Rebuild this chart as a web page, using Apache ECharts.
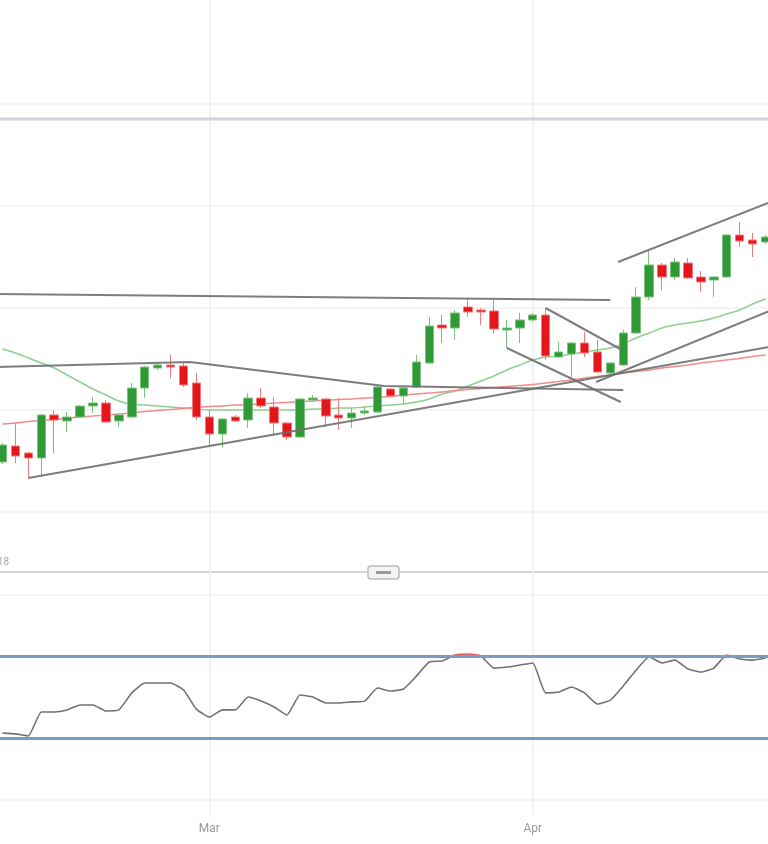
<!DOCTYPE html>
<html>
<head>
<meta charset="utf-8">
<script src="https://cdn.jsdelivr.net/npm/echarts@6/dist/echarts.min.js"></script>
<style>
html,body{margin:0;padding:0;background:#fff;overflow:hidden;width:768px;height:844px;}
#c{position:absolute;left:-4px;top:0;width:776px;height:844px;}
</style>
</head>
<body>
<div id="c"></div>
<script>
// ---- data ----
const dates = [
  '2018-02-11','2018-02-12','2018-02-13','2018-02-14','2018-02-15','2018-02-16','2018-02-18','2018-02-19',
  '2018-02-20','2018-02-21','2018-02-22','2018-02-23','2018-02-25','2018-02-26','2018-02-27','2018-02-28',
  '2018-03-01','2018-03-02','2018-03-04','2018-03-05','2018-03-06','2018-03-07','2018-03-08','2018-03-09',
  '2018-03-11','2018-03-12','2018-03-13','2018-03-14','2018-03-15','2018-03-16','2018-03-18','2018-03-19',
  '2018-03-20','2018-03-21','2018-03-22','2018-03-23','2018-03-25','2018-03-26','2018-03-27','2018-03-28',
  '2018-03-29','2018-04-02','2018-04-03','2018-04-04','2018-04-05','2018-04-06','2018-04-08','2018-04-09',
  '2018-04-10','2018-04-11','2018-04-12','2018-04-13','2018-04-15','2018-04-16','2018-04-17','2018-04-18',
  '2018-04-19','2018-04-20','2018-04-22','2018-04-23'
];
const monthLabels = {'02':'Feb','03':'Mar','04':'Apr'};

const opens = [
  1.3768,1.3800,1.3786,1.3776,1.3862,1.3850,1.3858,1.3880,1.3886,1.3850,
  1.3858,1.3916,1.3956,1.3962,1.3960,1.3926,1.3858,1.3824,1.3858,1.3852,
  1.3896,1.3878,1.3846,1.3818,1.3892,1.3894,1.3862,1.3856,1.3866,1.3868,
  1.3914,1.3900,1.3918,1.3966,1.4042,1.4036,1.4078,1.4072,1.4070,1.4032,
  1.4036,1.4052,1.4062,1.3978,1.3984,1.4006,1.3988,1.3946,1.3962,1.4026,
  1.4098,1.4162,1.4138,1.4166,1.4138,1.4132,1.4138,1.4222,1.4212,1.4208
];
const closes = [
  1.3802,1.3780,1.3776,1.3862,1.3852,1.3858,1.3880,1.3886,1.3848,1.3862,
  1.3916,1.3958,1.3962,1.3958,1.3922,1.3858,1.3824,1.3854,1.3850,1.3896,
  1.3880,1.3846,1.3818,1.3894,1.3896,1.3860,1.3856,1.3866,1.3870,1.3918,
  1.3900,1.3916,1.3968,1.4040,1.4036,1.4066,1.4068,1.4068,1.4034,1.4036,
  1.4052,1.4062,1.3980,1.3988,1.4006,1.3986,1.3948,1.3966,1.4026,1.4098,
  1.4162,1.4138,1.4168,1.4136,1.4128,1.4138,1.4222,1.4210,1.4204,1.4218
];
const lows = [
  1.3764,1.3766,1.3736,1.3738,1.3786,1.3828,1.3856,1.3866,1.3846,1.3838,
  1.3856,1.3896,1.3952,1.3936,1.3918,1.3852,1.3798,1.3798,1.3848,1.3836,
  1.3876,1.3822,1.3812,1.3816,1.3888,1.3838,1.3832,1.3836,1.3862,1.3866,
  1.3898,1.3884,1.3916,1.3964,1.4006,1.4012,1.4058,1.4042,1.4026,1.3996,
  1.4006,1.4048,1.3972,1.3976,1.3938,1.3978,1.3946,1.3942,1.3960,1.4024,
  1.4092,1.4112,1.4132,1.4134,1.4108,1.4098,1.4136,1.4198,1.4178,1.4204
];
const highs = [
  1.3806,1.3846,1.3788,1.3864,1.3872,1.3868,1.3882,1.3898,1.3892,1.3866,
  1.3926,1.3960,1.3966,1.3982,1.3966,1.3946,1.3872,1.3856,1.3862,1.3906,
  1.3916,1.3898,1.3848,1.3896,1.3902,1.3896,1.3896,1.3876,1.3878,1.3922,
  1.3916,1.3918,1.3982,1.4058,1.4062,1.4072,1.4096,1.4076,1.4092,1.4052,
  1.4066,1.4066,1.4076,1.4008,1.4008,1.4028,1.4012,1.3968,1.4032,1.4118,
  1.4192,1.4166,1.4176,1.4176,1.4150,1.4140,1.4224,1.4248,1.4226,1.4222
];
const maFast = [
  1.3994,1.3986,1.3976,1.3966,1.3956,1.3942,1.3928,1.3914,1.3902,1.3890,
  1.3884,1.3882,1.3880,1.3878,1.3876,1.3874,1.3872,1.3872,1.3872,1.3872,
  1.3872,1.3872,1.3872,1.3872,1.3874,1.3874,1.3876,1.3876,1.3878,1.3880,
  1.3882,1.3884,1.3888,1.3894,1.3904,1.3910,1.3920,1.3930,1.3940,1.3952,
  1.3962,1.3972,1.3978,1.3980,1.3984,1.3988,1.3992,1.3996,1.4004,1.4016,
  1.4026,1.4036,1.4042,1.4046,1.4050,1.4056,1.4064,1.4072,1.4084,1.4094
];
const maSlow = [
  1.3844,1.3846,1.3849,1.3851,1.3853,1.3856,1.3858,1.3860,1.3862,1.3864,
  1.3866,1.3869,1.3871,1.3873,1.3875,1.3878,1.3879,1.3880,1.3882,1.3883,
  1.3884,1.3886,1.3887,1.3889,1.3890,1.3892,1.3893,1.3894,1.3896,1.3897,
  1.3899,1.3902,1.3904,1.3906,1.3908,1.3911,1.3913,1.3915,1.3917,1.3919,
  1.3921,1.3923,1.3926,1.3929,1.3932,1.3936,1.3939,1.3942,1.3946,1.3949,
  1.3952,1.3956,1.3959,1.3962,1.3966,1.3969,1.3972,1.3975,1.3979,1.3982
];
const rsi = [
  32.4,32.0,31.0,42.7,42.7,43.7,46.1,46.1,43.2,43.7,
  52.0,56.8,56.8,56.8,53.4,44.1,40.2,43.7,43.7,50.0,
  48.0,45.1,41.2,51.0,50.0,47.1,47.1,47.6,48.0,54.4,
  52.9,53.9,60.2,67.1,67.6,70.5,71.0,70.0,64.1,64.6,
  65.6,66.6,52.0,52.4,54.9,52.0,46.6,48.5,55.4,63.2,
  69.5,66.6,68.0,63.7,62.2,64.1,70.5,68.5,68.0,69.0
];
const rsiLevels = [70, 30];
const resistanceLevel = 1.4454;
// trend lines: [candle index, price] pairs
const trendLines = [
  [[-0.5, 1.4104], [47.0, 1.4092]],
  [[-0.5, 1.3958], [14.5, 1.3968], [29.5, 1.3920], [48.0, 1.3912]],
  [[2.0, 1.3736], [59.5, 1.3999]],
  [[42.0, 1.4076], [47.9, 1.3992]],
  [[39.0, 1.3996], [47.8, 1.3888]],
  [[47.6, 1.4168], [59.5, 1.4289]],
  [[45.9, 1.3928], [59.5, 1.4072]]
];

// ---- chart ----
const monthOf = d => d.slice(5, 7);
const isMonthStart = i => i > 0 && monthOf(dates[i]) !== monthOf(dates[i - 1]);

const chart = echarts.init(document.getElementById('c'), null, {renderer: 'canvas'});
const OFF = 4; // container is shifted 4px left so the first candle is cut by the frame

const RSI_TOP = 594.5, RSI_H = 205;
const rsiColor = {
  type: 'linear', x: 0, y: RSI_TOP, x2: 0, y2: RSI_TOP + RSI_H, global: true,
  colorStops: [
    {offset: 0, color: '#e05a5a'}, {offset: 0.3, color: '#e05a5a'},
    {offset: 0.3, color: '#727272'}, {offset: 1, color: '#727272'}
  ]
};

const series = [
  {
    type: 'line', xAxisIndex: 1, yAxisIndex: 0, z: 2, symbol: 'none', silent: true,
    data: [[-0.5, resistanceLevel], [59.5, resistanceLevel]],
    lineStyle: {color: '#cdd5df', width: 3}
  },
  {
    type: 'candlestick', xAxisIndex: 0, yAxisIndex: 0, z: 4,
    data: dates.map((d, i) => [opens[i], closes[i], lows[i], highs[i]]),
    barWidth: 9,
    itemStyle: {color: '#2f9a35', color0: '#e3161b', borderColor: '#7cc47e', borderColor0: '#f07a7c', borderWidth: 1}
  },
  {type: 'line', xAxisIndex: 0, yAxisIndex: 0, data: maFast, symbol: 'none', smooth: 0.3, z: 3,
   lineStyle: {color: '#8ed08e', width: 1.5}},
  {type: 'line', xAxisIndex: 0, yAxisIndex: 0, data: maSlow, symbol: 'none', smooth: 0.3, z: 3,
   lineStyle: {color: '#f08c8c', width: 1.5}}
];
trendLines.forEach(tl => series.push({
  type: 'line', xAxisIndex: 1, yAxisIndex: 0, data: tl, symbol: 'none', z: 5, silent: true,
  lineStyle: {color: '#6f6f6f', width: 2, opacity: 0.9}
}));
series.push({
  type: 'line', xAxisIndex: 2, yAxisIndex: 1, data: rsi, symbol: 'none', z: 4, smooth: 0.15,
  lineStyle: {width: 1.6, color: rsiColor},
  markLine: {
    symbol: 'none', silent: true, label: {show: false},
    lineStyle: {color: '#7b9cc2', width: 3, type: 'solid'},
    data: rsiLevels.map(v => ({yAxis: v}))
  }
});

const hiddenY = {axisLabel: {show: false}, axisLine: {show: false}, axisTick: {show: false}};

chart.setOption({
  animation: false,
  backgroundColor: '#ffffff',
  grid: [
    {left: 0, right: 0, top: 104, height: 408},
    {left: 0, right: 0, top: RSI_TOP, height: RSI_H},
    {left: 0, right: 0, top: 0, height: 815}
  ],
  xAxis: [
    {type: 'category', gridIndex: 0, data: dates, show: false},
    {type: 'value', gridIndex: 0, min: -0.5, max: 59.5, show: false},
    {type: 'category', gridIndex: 1, data: dates, show: false},
    {type: 'category', gridIndex: 2, data: dates,
     axisLine: {show: false}, axisTick: {show: false},
     axisLabel: {interval: i => isMonthStart(i), formatter: v => monthLabels[monthOf(v)],
                 color: '#9a9a9a', fontSize: 12, fontFamily: 'Liberation Sans Narrow, Roboto, sans-serif'},
     splitLine: {show: true, interval: i => isMonthStart(i), alignWithLabel: true,
                 lineStyle: {color: '#efefef', width: 1.5}}}
  ],
  yAxis: [
    Object.assign({type: 'value', gridIndex: 0, min: 1.3668, max: 1.4484, interval: 0.0204,
      splitLine: {lineStyle: {color: '#f0f0f0', width: 1.5}}}, hiddenY),
    Object.assign({type: 'value', gridIndex: 1, min: 0, max: 100, interval: 100,
      splitLine: {lineStyle: {color: '#f0f0f0', width: 1.5}}}, hiddenY),
    {type: 'value', gridIndex: 2, show: false}
  ],
  graphic: [
    {type: 'line', shape: {x1: 0, y1: 572, x2: 776, y2: 572}, style: {stroke: '#d4d4d4', lineWidth: 2}, silent: true},
    {type: 'rect', shape: {x: 368 + OFF, y: 566, width: 31, height: 13, r: 3},
     style: {fill: '#f4f4f4', stroke: '#b9b9c2', lineWidth: 1.5}, silent: true},
    {type: 'rect', shape: {x: 376 + OFF, y: 571, width: 15, height: 3},
     style: {fill: '#9a9aa4'}, silent: true},
    {type: 'text', x: 9 + OFF, y: 562, style: {text: '2018', fill: '#aaaaaa', fontSize: 10, align: 'right',
      verticalAlign: 'middle', fontFamily: 'Liberation Sans Narrow, Roboto, sans-serif'}, silent: true}
  ],
  series: series
});
</script>
</body>
</html>
